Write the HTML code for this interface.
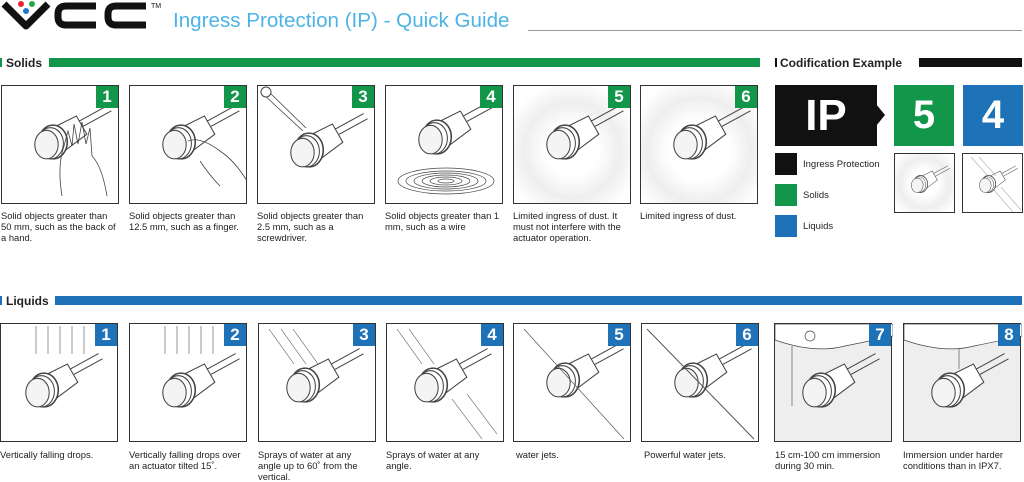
<!DOCTYPE html>
<html><head><meta charset="utf-8"><style>
*{margin:0;padding:0;box-sizing:border-box}
body{width:1024px;height:481px;background:#fff;position:relative;overflow:hidden;font-family:"Liberation Sans",sans-serif}
.a{position:absolute}
.p{position:absolute;width:118px;height:119px;border:1px solid #333;background:#fff}
.p svg{position:absolute;left:0;top:0}
.n{position:absolute;right:0;top:0;width:22px;height:22px;color:#fff;font-weight:bold;font-size:17px;text-align:center;line-height:22px}
.g{background:#12964a}.b{background:#1e72b8}
.c{position:absolute;font-size:9.4px;line-height:11px;color:#222;width:116px}
.h{position:absolute;font-size:12px;font-weight:bold;color:#222}
.gray{background:#eeeeee}
</style></head><body>
<svg width="0" height="0" style="position:absolute"><defs>
<g id="k0" fill="#fff" stroke="#444" stroke-width="0.8">
<path d="M52 48 L68 40 L76 54 L60 66Z"/>
<line x1="70" y1="44" x2="92" y2="32"/><line x1="73" y1="48" x2="95" y2="36"/>
<ellipse cx="50" cy="60" rx="11" ry="13" stroke-width="1.2"/>
<ellipse cx="48" cy="61" rx="10" ry="12"/>
<ellipse cx="45" cy="62" rx="9" ry="11" fill="#f4f4f4"/>
</g>
<g id="k"><use href="#k0" transform="translate(-14,-22) scale(1.3)"/></g>
</defs></svg>

<!-- logo -->
<svg class="a" style="left:0;top:0" width="170" height="34">
<path d="M4 4 L26 26 L48 4" fill="none" stroke="#111" stroke-width="7" stroke-linejoin="round"/>
<circle cx="21" cy="4" r="3" fill="#e23"/><circle cx="32" cy="4" r="3" fill="#2a4"/><circle cx="26" cy="11" r="3" fill="#27c"/>
<path d="M96 6 H66 Q58 6 58 14 V17 Q58 25 66 25 H96" fill="none" stroke="#111" stroke-width="7"/>
<path d="M146 6 H116 Q108 6 108 14 V17 Q108 25 116 25 H146" fill="none" stroke="#111" stroke-width="7"/>
<text x="151" y="8" font-size="7" fill="#111" font-family="Liberation Sans">TM</text>
</svg>
<div class="a" style="left:173px;top:9px;font-size:20.6px;color:#4db3e6">Ingress Protection (IP) - Quick Guide</div>
<div class="a" style="left:528px;top:30px;width:494px;height:1px;background:#999"></div>

<!-- Solids header -->
<div class="a g" style="left:0;top:58px;width:2px;height:9px"></div>
<div class="h" style="left:6px;top:56px">Solids</div>
<div class="a g" style="left:49px;top:58px;width:711px;height:9px"></div>

<div class="p" style="left:1px;top:85px"><svg width="118" height="119"><use href="#k"/><path d="M60 110 Q55 80 62 60 L66 45 L70 60 L72 38 L76 58 L80 36 L84 58 L88 42 L90 70 Q100 80 105 110" fill="none" stroke="#444" stroke-width="0.8"/></svg><div class="n g">1</div></div>
<div class="p" style="left:129px;top:85px"><svg width="118" height="119"><use href="#k"/><path d="M58 55 Q70 50 90 65 Q105 75 117 95 M70 75 Q80 90 90 100" fill="none" stroke="#444" stroke-width="0.8"/></svg><div class="n g">2</div></div>
<div class="p" style="left:257px;top:85px"><svg width="118" height="119"><use href="#k" transform="translate(0,8)"/><path d="M5 8 L45 45 M9 4 L48 42" stroke="#444" stroke-width="0.8"/><circle cx="8" cy="6" r="5" fill="#fff" stroke="#444"/></svg><div class="n g">3</div></div>
<div class="p" style="left:385px;top:85px"><svg width="118" height="119"><use href="#k" transform="translate(0,-5)"/><g fill="none" stroke="#444" stroke-width="0.7"><ellipse cx="60" cy="95" rx="48" ry="13"/><ellipse cx="60" cy="95" rx="40" ry="10"/><ellipse cx="60" cy="95" rx="32" ry="8"/><ellipse cx="60" cy="95" rx="24" ry="6"/><ellipse cx="60" cy="95" rx="16" ry="4"/><ellipse cx="60" cy="95" rx="8" ry="2"/></g></svg><div class="n g">4</div></div>
<div class="p" style="left:513px;top:85px;background:radial-gradient(circle at 50% 55%,#fff 30%,#eee 55%,#fff 80%)"><svg width="118" height="119"><use href="#k"/></svg><div class="n g">5</div></div>
<div class="p" style="left:640px;top:85px;background:radial-gradient(circle at 50% 55%,#fff 35%,#eee 60%,#fff 85%)"><svg width="118" height="119"><use href="#k"/></svg><div class="n g">6</div></div>

<div class="c" style="left:1px;top:210px">Solid objects greater than 50 mm, such as the back of a hand.</div>
<div class="c" style="left:129px;top:210px">Solid objects greater than 12.5 mm, such as a finger.</div>
<div class="c" style="left:257px;top:210px">Solid objects greater than 2.5 mm, such as a screwdriver.</div>
<div class="c" style="left:385px;top:210px">Solid objects greater than 1 mm, such as a wire</div>
<div class="c" style="left:513px;top:210px">Limited ingress of dust. It must not interfere with the actuator operation.</div>
<div class="c" style="left:640px;top:210px">Limited ingress of dust.</div>

<!-- Codification -->
<div class="a" style="left:775px;top:58px;width:2px;height:9px;background:#111"></div>
<div class="h" style="left:780px;top:56px">Codification Example</div>
<div class="a" style="left:919px;top:58px;width:103px;height:9px;background:#111"></div>
<div class="a" style="left:775px;top:85px;width:102px;height:61px;background:#111;color:#fff;font-size:44px;font-weight:bold;text-align:center;line-height:61px">IP</div>
<svg class="a" style="left:876px;top:104px" width="10" height="22"><path d="M0 0 L9 11 L0 22Z" fill="#111"/></svg>
<div class="a g" style="left:894px;top:85px;width:60px;height:61px;color:#fff;font-size:40px;font-weight:bold;text-align:center;line-height:61px">5</div>
<div class="a b" style="left:963px;top:85px;width:60px;height:61px;color:#fff;font-size:40px;font-weight:bold;text-align:center;line-height:61px">4</div>
<div class="a" style="left:775px;top:153px;width:22px;height:22px;background:#111"></div>
<div class="a" style="left:775px;top:184px;width:22px;height:22px;background:#12964a"></div>
<div class="a" style="left:775px;top:215px;width:22px;height:22px;background:#1e72b8"></div>
<div class="a" style="left:803px;top:159px;font-size:9.5px;color:#222">Ingress Protection</div>
<div class="a" style="left:803px;top:190px;font-size:9.5px;color:#222">Solids</div>
<div class="a" style="left:803px;top:221px;font-size:9.5px;color:#222">Liquids</div>
<div class="p" style="left:894px;top:153px;width:61px;height:60px;background:radial-gradient(circle,#fff 30%,#eee 60%,#fff 90%)"><svg width="61" height="60"><use href="#k" transform="translate(0,2) scale(0.5)"/></svg></div>
<div class="p" style="left:962px;top:153px;width:61px;height:60px"><svg width="61" height="60"><use href="#k" transform="translate(0,2) scale(0.5)"/><g stroke="#777" stroke-width="0.5"><line x1="8" y1="3" x2="25" y2="22"/><line x1="16" y1="3" x2="33" y2="22"/><line x1="30" y1="35" x2="50" y2="58"/><line x1="38" y1="33" x2="58" y2="56"/></g></svg></div>

<!-- Liquids header -->
<div class="a b" style="left:0;top:296px;width:2px;height:9px"></div>
<div class="h" style="left:6px;top:294px">Liquids</div>
<div class="a b" style="left:55px;top:296px;width:967px;height:9px"></div>

<div class="p" style="left:0;top:323px"><svg width="118" height="119"><use href="#k" transform="translate(-8,10)"/><g stroke="#555" stroke-width="0.6"><line x1="35" y1="2" x2="35" y2="30"/><line x1="47" y1="2" x2="47" y2="30"/><line x1="59" y1="2" x2="59" y2="30"/><line x1="71" y1="2" x2="71" y2="30"/><line x1="83" y1="2" x2="83" y2="30"/></g></svg><div class="n b">1</div></div>
<div class="p" style="left:129px;top:323px"><svg width="118" height="119"><use href="#k" transform="translate(0,10)"/><g stroke="#555" stroke-width="0.6"><line x1="35" y1="2" x2="35" y2="30"/><line x1="47" y1="2" x2="47" y2="30"/><line x1="59" y1="2" x2="59" y2="30"/><line x1="71" y1="2" x2="71" y2="30"/><line x1="83" y1="2" x2="83" y2="30"/></g></svg><div class="n b">2</div></div>
<div class="p" style="left:258px;top:323px"><svg width="118" height="119"><use href="#k" transform="translate(-5,5)"/><g stroke="#555" stroke-width="0.6"><line x1="10" y1="5" x2="35" y2="40"/><line x1="22" y1="5" x2="47" y2="40"/><line x1="34" y1="5" x2="59" y2="40"/></g></svg><div class="n b">3</div></div>
<div class="p" style="left:386px;top:323px"><svg width="118" height="119"><use href="#k" transform="translate(-5,5)"/><g stroke="#555" stroke-width="0.6"><line x1="10" y1="5" x2="35" y2="40"/><line x1="22" y1="5" x2="47" y2="40"/><line x1="65" y1="75" x2="95" y2="115"/><line x1="80" y1="70" x2="110" y2="110"/></g></svg><div class="n b">4</div></div>
<div class="p" style="left:513px;top:323px"><svg width="118" height="119"><use href="#k"/><line x1="10" y1="5" x2="110" y2="115" stroke="#555" stroke-width="0.7"/></svg><div class="n b">5</div></div>
<div class="p" style="left:641px;top:323px"><svg width="118" height="119"><use href="#k"/><line x1="5" y1="5" x2="112" y2="115" stroke="#555" stroke-width="1"/></svg><div class="n b">6</div></div>
<div class="p gray" style="left:774px;top:323px"><svg width="118" height="119"><path d="M0 0 H118 V12 Q90 18 70 22 Q40 30 0 16Z" fill="#fff" stroke="#444" stroke-width="0.7"/><use href="#k" transform="translate(-5,10)"/><line x1="17" y1="22" x2="17" y2="82" stroke="#444" stroke-width="0.6"/><circle cx="35" cy="12" r="5" fill="none" stroke="#444" stroke-width="0.7"/></svg><div class="n b">7</div></div>
<div class="p gray" style="left:903px;top:323px"><svg width="118" height="119"><path d="M0 0 H118 V12 Q90 18 70 22 Q40 30 0 16Z" fill="#fff" stroke="#444" stroke-width="0.7"/><use href="#k" transform="translate(-5,10)"/><line x1="55" y1="24" x2="55" y2="45" stroke="#444" stroke-width="0.6"/></svg><div class="n b">8</div></div>

<div class="c" style="left:0;top:449px">Vertically falling drops.</div>
<div class="c" style="left:129px;top:449px">Vertically falling drops over an actuator tilted 15˚.</div>
<div class="c" style="left:258px;top:449px">Sprays of water at any angle up to 60˚ from the vertical.</div>
<div class="c" style="left:386px;top:449px">Sprays of water at any angle.</div>
<div class="c" style="left:516px;top:449px">water jets.</div>
<div class="c" style="left:644px;top:449px">Powerful water jets.</div>
<div class="c" style="left:775px;top:449px">15 cm-100 cm immersion during 30 min.</div>
<div class="c" style="left:903px;top:449px">Immersion under harder conditions than in IPX7.</div>
</body></html>
